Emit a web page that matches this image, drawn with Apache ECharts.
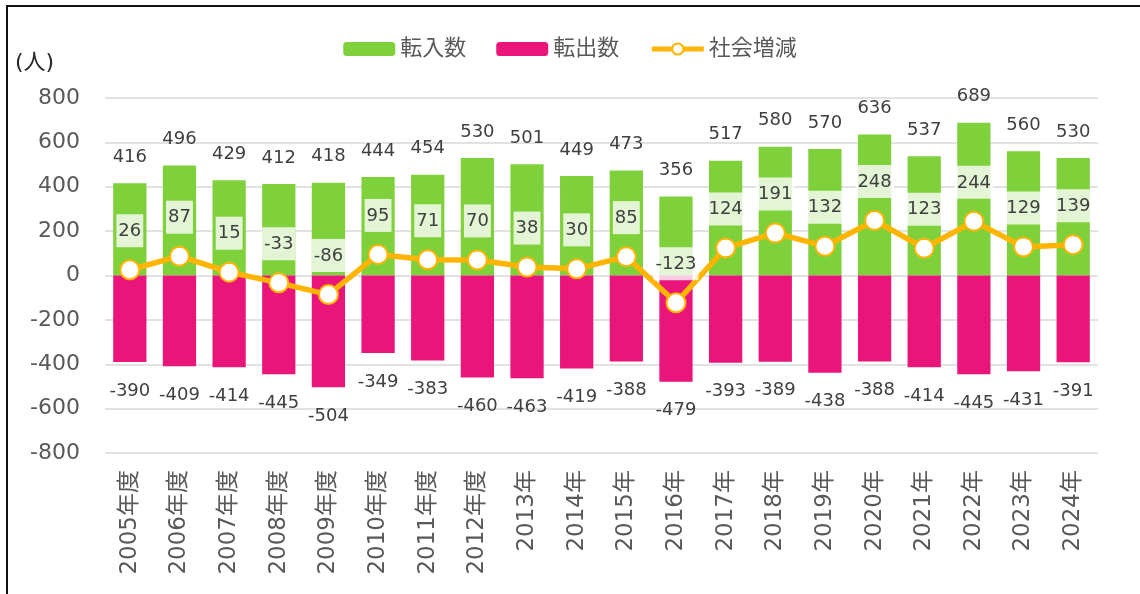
<!DOCTYPE html>
<html>
<head>
<meta charset="utf-8">
<script src="https://cdn.jsdelivr.net/npm/echarts@6/dist/echarts.min.js"></script>
<style>
  html, body { margin: 0; padding: 0; background: #fff; }
  #chart { width: 1140px; height: 594px; }
  .frame { position: absolute; left: 6px; top: 5px; width: 1140px; height: 600px;
    border-top: 2px solid #111; border-left: 2px solid #111; pointer-events: none; }
</style>
</head>
<body>
<div id="chart"></div>
<div class="frame"></div>
<script>
const categories = ['2005年度', '2006年度', '2007年度', '2008年度', '2009年度', '2010年度', '2011年度', '2012年度',
  '2013年', '2014年', '2015年', '2016年', '2017年', '2018年', '2019年', '2020年', '2021年', '2022年', '2023年', '2024年']
const tennyu = [416, 496, 429, 412, 418, 444, 454, 530, 501, 449, 473, 356, 517, 580, 570, 636, 537, 689, 560, 530]
const tenshutsu = [-390, -409, -414, -445, -504, -349, -383, -460, -463, -419, -388, -479, -393, -389, -438, -388, -414, -445, -431, -391]
const shakai = [26, 87, 15, -33, -86, 95, 71, 70, 38, 30, 85, -123, 124, 191, 132, 248, 123, 244, 129, 139]

const font = 'DejaVu Sans, Noto Sans CJK JP'
const chart = echarts.init(document.getElementById('chart'))

const options = {
  animation: false,
  textStyle: { fontFamily: font },
  legend: {
    top: 33,
    left: 'center',
    itemWidth: 52,
    itemHeight: 14,
    itemGap: 30,
    textStyle: { fontSize: 22, color: '#595959', fontFamily: font },
    data: ['転入数', '転出数', {
      name: '社会増減',
      lineStyle: { width: 5, color: '#ffb400' },
      itemStyle: { color: '#fff', borderColor: '#ffb400', borderWidth: 2 },
    }],
  },
  graphic: [{
    type: 'text',
    left: 15,
    top: 52,
    style: { text: '(人)', fontSize: 22, fill: '#262626', fontFamily: font },
  }],
  grid: {
    left: 105,
    right: 42,
    top: 98,
    bottom: 141,
  },
  xAxis: [{
    type: 'category',
    data: categories,
    axisLine: { show: false, onZero: false },
    axisTick: { show: false },
    axisLabel: {
      rotate: 90,
      margin: 17,
      fontSize: 23,
      color: '#595959',
      fontFamily: font,
    },
  }],
  yAxis: [{
    type: 'value',
    min: -800,
    max: 800,
    interval: 200,
    axisLine: { show: false },
    axisTick: { show: false },
    axisLabel: {
      margin: 25,
      fontSize: 22,
      color: '#595959',
      fontFamily: font,
    },
    splitLine: {
      lineStyle: { color: '#d9d9d9', width: 1.5 },
    },
  }],
  series: [{
    name: '転入数',
    type: 'bar',
    stack: 'total',
    data: tennyu,
    barWidth: '67%',
    itemStyle: { color: '#7fd13b' },
    label: {
      show: true,
      position: 'top',
      distance: 17,
      fontSize: 18,
      color: '#404040',
      fontFamily: font,
    },
  }, {
    name: '転出数',
    type: 'bar',
    stack: 'total',
    data: tenshutsu,
    barWidth: '67%',
    itemStyle: { color: '#ea157a' },
    label: {
      show: true,
      position: 'bottom',
      distance: 20,
      fontSize: 18,
      color: '#404040',
      fontFamily: font,
    },
  }, {
    name: '社会増減',
    type: 'line',
    data: shakai,
    symbol: 'circle',
    symbolSize: 19,
    z: 5,
    lineStyle: { color: '#ffb400', width: 5.5 },
    itemStyle: { color: '#fff', borderColor: '#ffb400', borderWidth: 2 },
    label: {
      show: true,
      position: 'top',
      distance: 12,
      fontSize: 18,
      color: '#404040',
      fontFamily: font,
      backgroundColor: 'rgba(255,255,255,0.78)',
      padding: [8, 2, 7, 2],
    },
  }],
}

chart.setOption(options)
</script>
</body>
</html>
